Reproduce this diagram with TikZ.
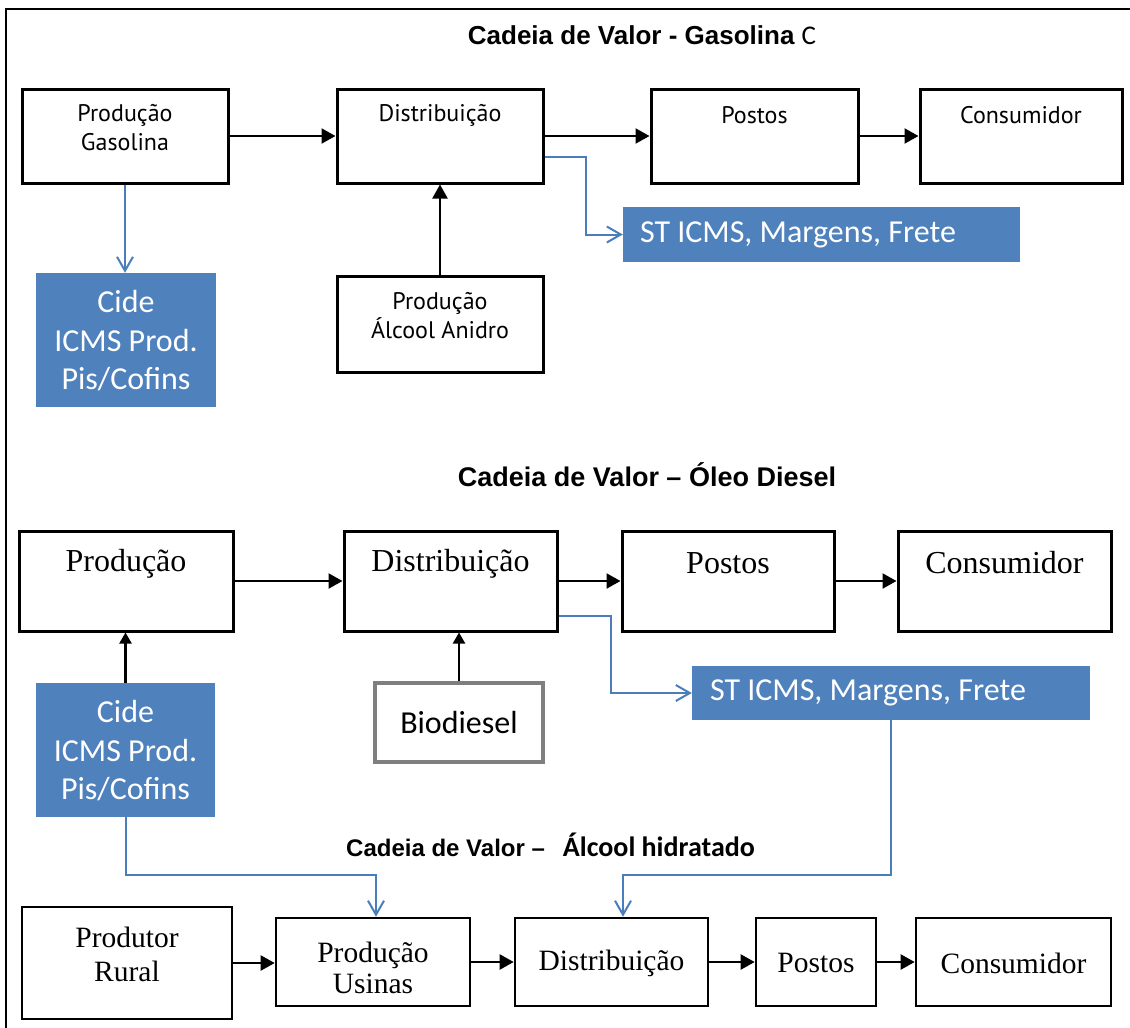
\documentclass[tikz,border=0pt]{standalone}
\usepackage{fontspec}
\usetikzlibrary{arrows.meta}
\newfontfamily\ptsans{PT Sans}
\newfontfamily\carl{Carlito}
\newfontfamily\lserif{Liberation Serif}
\newfontfamily\lsans{Liberation Sans}
\definecolor{bfill}{HTML}{4F81BD}
\definecolor{bline}{HTML}{4A7EBB}
\definecolor{bgray}{HTML}{7F7F7F}
\begin{document}
\begin{tikzpicture}[x=1pt,y=-1pt,
  box/.style={draw=black, line width=3pt, inner sep=0pt},
  thinbox/.style={draw=black, line width=2.6pt, inner sep=0pt},
  bluebox/.style={fill=bfill, draw=none, inner sep=0pt},
  graybox/.style={draw=bgray, line width=3.8pt, inner sep=0pt},
  tA/.style={font=\ptsans\fontsize{24}{29}\selectfont, align=center, inner sep=0pt},
  tW/.style={font=\carl\fontsize{32}{38.5}\selectfont, text=white, align=center, inner sep=0pt},
  tC/.style={font=\carl\fontsize{32}{38.5}\selectfont, align=center, inner sep=0pt},
  tS/.style={font=\lserif\fontsize{32}{38}\selectfont, align=center, inner sep=0pt},
  tB/.style={font=\lserif\fontsize{29.5}{34}\selectfont, align=center, inner sep=0pt},
  title/.style={font=\lsans\bfseries\fontsize{26}{30}\selectfont, inner sep=0pt},
  arr/.style={draw=black, line width=2.2pt, -{Triangle[length=14pt,width=15pt]}},
  sarr/.style={draw=black, line width=2.2pt, -{Triangle[length=11pt,width=12pt]}},
  barr/.style={draw=bline, line width=2pt, -{Straight Barb[length=14pt,width=16pt]}}
]
\fill[white] (0,0) rectangle (1130,1028);
\useasboundingbox (0,0) rectangle (1130,1028);
\draw[line width=2pt] (1130,9) -- (6,9) -- (6,1028);

% ---------- Gasolina C ----------
\node[title] (t1) at (642,35) {Cadeia de Valor - Gasolina {\carl\mdseries\fontsize{27}{30}\selectfont C}};
\node[box, minimum width=206pt, minimum height=94pt,
  label={[tA, yshift=8.5pt]center:{Produção\\Gasolina}}] (pg) at (125,136) {};
\node[box, minimum width=206pt, minimum height=94pt,
  label={[tA, yshift=21pt]center:{Distribuição}}] (d1) at (440,136) {};
\node[box, minimum width=207pt, minimum height=94pt,
  label={[tA, yshift=21pt]center:{Postos}}] (p1) at (754.5,136) {};
\node[box, minimum width=202pt, minimum height=94pt,
  label={[tA, yshift=21pt]center:{Consumidor}}] (c1) at (1021,136) {};
\node[bluebox, minimum width=180pt, minimum height=134pt,
  label={[tW, yshift=-1pt]center:{Cide\\ICMS Prod.\\Pis/Cofins}}] (cide1) at (126,340) {};
\node[box, minimum width=206pt, minimum height=96pt,
  label={[tA, yshift=8.5pt]center:{Produção\\Álcool Anidro}}] (paa) at (440,324) {};
\node[bluebox, minimum width=397pt, minimum height=55pt,
  label={[tW, anchor=west, xshift=17pt]west:{ST ICMS, Margens, Frete}}] (st1) at (821.5,234.5) {};

\draw[arr] (pg.east) -- (d1.west);
\draw[arr] (d1.east) -- (p1.west);
\draw[arr] (p1.east) -- (c1.west);
\draw[arr] (paa.north) -- (d1.south);
\draw[barr] (pg.south) -- (cide1.north -| pg.south);
\draw[barr] ([yshift=-21pt]d1.east) -- ++(41,0) |- (st1.west);

% ---------- Oleo Diesel ----------
\node[title, font=\lsans\bfseries\fontsize{27}{30}\selectfont] (t2) at (647,475) {Cadeia de Valor – Óleo Diesel};
\node[box, minimum width=214pt, minimum height=100pt,
  label={[tS, yshift=17pt]center:{Produção}}] (pr2) at (126,581) {};
\node[box, minimum width=213pt, minimum height=100pt,
  label={[tS, yshift=17pt]center:{Distribuição}}] (d2) at (450.5,581) {};
\node[box, minimum width=212pt, minimum height=100pt,
  label={[tS, yshift=18pt]center:{Postos}}] (p2) at (728,581) {};
\node[box, minimum width=213pt, minimum height=100pt,
  label={[tS, yshift=18pt]center:{Consumidor}}] (c2) at (1004.5,581) {};
\node[bluebox, minimum width=179pt, minimum height=134pt,
  label={[tW, yshift=-1pt]center:{Cide\\ICMS Prod.\\Pis/Cofins}}] (cide2) at (125.5,750) {};
\node[graybox, minimum width=168pt, minimum height=79pt,
  label={[tC]center:{Biodiesel}}] (bio) at (459,722.5) {};
\node[bluebox, minimum width=398pt, minimum height=54pt,
  label={[tW, anchor=west, xshift=18pt]west:{ST ICMS, Margens, Frete}}] (st2) at (891,693) {};

\draw[arr] (pr2.east) -- (d2.west);
\draw[arr] (d2.east) -- (p2.west);
\draw[arr] (p2.east) -- (c2.west);
\draw[sarr] (cide2.north) -- (cide2.north |- pr2.south);
\draw[sarr] (bio.north) -- (bio.north |- d2.south);
\draw[barr] ([yshift=-35pt]d2.east) -- ++(52,0) |- (st2.west);

% ---------- Alcool hidratado ----------
\node[title, font=\lsans\bfseries\fontsize{24}{28}\selectfont] (t3) at (550.5,845) {Cadeia de Valor –\hspace{18pt}{\carl\bfseries\fontsize{28}{30}\selectfont Álcool hidratado}};
\node[thinbox, minimum width=210pt, minimum height=112pt,
  label={[tB, yshift=8.5pt]center:{Produtor\\Rural}}] (pr) at (127,963) {};
\node[thinbox, minimum width=194pt, minimum height=88pt,
  label={[tB, yshift=-6pt, font=\lserif\fontsize{29.5}{31}\selectfont]center:{Produção\\Usinas}}] (pu) at (373,962) {};
\node[thinbox, minimum width=193pt, minimum height=88pt,
  label={[tB, yshift=-1pt]center:{Distribuição}}] (d3) at (611.5,962) {};
\node[thinbox, minimum width=120pt, minimum height=88pt,
  label={[tB, yshift=-1pt]center:{Postos}}] (p3) at (816,962) {};
\node[thinbox, minimum width=195pt, minimum height=88pt,
  label={[tB, yshift=-1pt]center:{Consumidor}}] (c3) at (1013.5,962) {};

\draw[arr] (pr.east) -- (pr.east -| pu.west);
\draw[arr] (pu.east) -- (d3.west);
\draw[arr] (d3.east) -- (p3.west);
\draw[arr] (p3.east) -- (c3.west);
\draw[barr] (cide2.south) -- ++(0,58) -| ([xshift=3pt]pu.north);
\draw[barr] (st2.south) -- ++(0,155) -| ([xshift=11.5pt]d3.north);
\end{tikzpicture}
\end{document}
